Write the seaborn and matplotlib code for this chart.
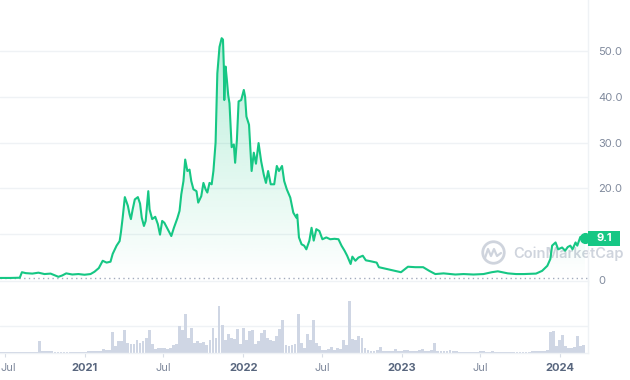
"""Price + volume chart in the CoinMarketCap style (seaborn / matplotlib)."""
import matplotlib

matplotlib.use("Agg")

import matplotlib.dates as mdates  # noqa: E402
import matplotlib.pyplot as plt  # noqa: E402
import matplotlib.transforms as mtransforms  # noqa: E402
import numpy as np  # noqa: E402
import pandas as pd  # noqa: E402
import seaborn as sns  # noqa: E402
from matplotlib.colors import to_rgb  # noqa: E402
from matplotlib.patches import Rectangle  # noqa: E402

GREEN = "#16c784"
GRID = "#eff2f5"
LABEL = "#808a9d"
VOL = "#cfd6e4"

# ---- data -----------------------------------------------------------------
price_dates = [
    "2020-06-20", "2020-07-13", "2020-08-04", "2020-08-09", "2020-08-18", "2020-09-02",
    "2020-09-16", "2020-09-30", "2020-10-14", "2020-11-01", "2020-11-10", "2020-11-19",
    "2020-12-03", "2020-12-17", "2020-12-31",
    "2021-01-14", "2021-01-23", "2021-02-02", "2021-02-11", "2021-02-20", "2021-03-01",
    "2021-03-06", "2021-03-15", "2021-03-22", "2021-03-25", "2021-03-29", "2021-04-03",
    "2021-04-10", "2021-04-14", "2021-04-17", "2021-04-21", "2021-04-26", "2021-05-03",
    "2021-05-08", "2021-05-12", "2021-05-17", "2021-05-21", "2021-05-27", "2021-05-30",
    "2021-06-05", "2021-06-12", "2021-06-18", "2021-06-23", "2021-06-28", "2021-07-03",
    "2021-07-09", "2021-07-19", "2021-07-25", "2021-08-02", "2021-08-07", "2021-08-11",
    "2021-08-16", "2021-08-20", "2021-08-25", "2021-08-30", "2021-09-03", "2021-09-08",
    "2021-09-15", "2021-09-19", "2021-09-26", "2021-10-01", "2021-10-06", "2021-10-10",
    "2021-10-15", "2021-10-20", "2021-10-24", "2021-10-29", "2021-11-02", "2021-11-07",
    "2021-11-12", "2021-11-15", "2021-11-17", "2021-11-18", "2021-11-21", "2021-11-24",
    "2021-11-27", "2021-11-30", "2021-12-05", "2021-12-10", "2021-12-13", "2021-12-17",
    "2021-12-21", "2021-12-27",
    "2022-01-02", "2022-01-05", "2022-01-08", "2022-01-14", "2022-01-20", "2022-01-25",
    "2022-01-30", "2022-02-05", "2022-02-11", "2022-02-17", "2022-02-22", "2022-02-27",
    "2022-03-05", "2022-03-13", "2022-03-19", "2022-03-24", "2022-03-31", "2022-04-05",
    "2022-04-11", "2022-04-19", "2022-04-26", "2022-05-03", "2022-05-05", "2022-05-09",
    "2022-05-15", "2022-05-21", "2022-05-26", "2022-06-02", "2022-06-07", "2022-06-12",
    "2022-06-18", "2022-06-25", "2022-07-02", "2022-07-11", "2022-07-20", "2022-07-30",
    "2022-08-08", "2022-08-15", "2022-08-22", "2022-08-28", "2022-09-05", "2022-09-09",
    "2022-09-16", "2022-09-23", "2022-10-03", "2022-10-10", "2022-10-21", "2022-11-04",
    "2022-11-09", "2022-11-27", "2022-12-16", "2022-12-30",
    "2023-01-15", "2023-02-01", "2023-02-19", "2023-03-05", "2023-03-19", "2023-04-07",
    "2023-05-04", "2023-05-23", "2023-06-15", "2023-07-08", "2023-07-27", "2023-08-10",
    "2023-09-02", "2023-09-21", "2023-10-09", "2023-11-06", "2023-11-20", "2023-12-02",
    "2023-12-09", "2023-12-13", "2023-12-21", "2023-12-27",
    "2024-01-05", "2024-01-12", "2024-01-18", "2024-01-24", "2024-01-29", "2024-02-05",
    "2024-02-09", "2024-02-16", "2024-02-23", "2024-02-27",
]
price_values = [
    0.45, 0.45, 0.5, 1.7, 1.5, 1.4, 1.6, 1.3, 1.4, 0.7, 1.0, 1.45, 1.2, 1.3, 1.15,
    1.3, 1.8, 2.6, 4.2, 3.8, 4.0, 5.7, 7.5, 8.5, 10.4, 13.6, 18.1, 16.2, 14.3, 13.3,
    15.4, 17.6, 18.1, 16.7, 13.6, 11.8, 12.9, 19.4, 15.4, 13.3, 13.8, 12.2, 9.9, 12.9,
    12.5, 11.4, 9.6, 11.4, 13.5, 15.1, 18.7, 21.6, 26.3, 23.8, 24.1, 21.6, 19.8, 19.4,
    16.9, 18.3, 21.2, 19.8, 19.1, 21.2, 20.9, 23.8, 30.0, 45.1, 50.9, 52.8, 52.5, 46.6,
    39.3, 46.6, 43.7, 40.4, 38.6, 29.0, 29.6, 25.6, 30.5, 39.0, 39.3,
    41.5, 40.0, 35.7, 33.9, 23.8, 27.8, 25.4, 29.9, 25.9, 23.0, 21.2, 23.8, 20.9, 20.9,
    24.9, 23.8, 24.9, 21.6, 19.8, 18.0, 14.7, 13.6, 14.3, 9.3, 7.8, 7.5, 6.7, 8.6, 11.4,
    8.6, 11.1, 10.7, 8.9, 9.3, 8.9, 9.0, 8.9, 7.5, 6.4, 5.3, 3.5, 5.1, 4.2, 4.9, 5.3,
    4.3, 4.1, 3.8, 2.8, 2.4, 2.0, 1.7,
    2.9, 2.8, 2.8, 2.0, 1.3, 1.45, 1.2, 1.3, 1.2, 1.3, 1.7, 1.9, 1.45, 1.3, 1.3, 1.4,
    2.0, 3.1, 4.6, 7.5, 8.2, 6.7,
    7.1, 6.4, 7.2, 7.5, 6.7, 8.2, 7.5, 9.4, 9.4, 9.1,
]

# weekly volume (arbitrary units), first week starting 2020-06-20
volume_start = "2020-06-20"
volume_values = [
    0.02, 0.02, 0.02, 0.02, 0.02, 0.02, 0.02, 0.02, 0.02, 0.02,
    0.05, 0.03, 0.05, 0.46, 0.06, 0.06, 0.06, 0.06, 0.04, 0.03,
    0.03, 0.05, 0.03, 0.03, 0.03, 0.03, 0.05, 0.03, 0.04, 0.06,
    0.07, 0.09, 0.07, 0.09, 0.15, 0.10, 0.12, 0.77, 0.25, 0.43,
    0.46, 0.86, 0.37, 0.32, 0.35, 0.49, 0.37, 0.46, 0.56, 0.86,
    0.33, 0.15, 0.20, 0.19, 0.19, 0.14, 0.19, 0.31, 0.33, 0.99,
    0.86, 1.46, 0.56, 0.93, 0.37, 0.43, 0.37, 0.40, 0.30, 0.49,
    0.93, 0.55, 1.75, 1.05, 0.50, 0.72, 0.56, 0.52, 0.90, 0.35,
    0.93, 0.50, 0.80, 0.86, 0.35, 0.43, 0.74, 0.86, 0.55, 0.50,
    0.43, 0.62, 0.90, 1.23, 0.31, 0.25, 0.28, 0.33, 1.46, 0.37,
    0.20, 0.72, 0.50, 1.23, 0.37, 0.25, 0.12, 0.12, 0.16, 0.22,
    0.12, 0.18, 0.16, 0.49, 0.31, 1.94, 0.52, 0.49, 0.62, 0.56,
    0.19, 0.10, 0.09, 0.09, 0.10, 0.22, 0.06, 0.06, 0.06, 0.06,
    0.15, 0.06, 0.09, 0.12, 0.10, 0.06, 0.09, 0.09, 0.10, 0.15,
    0.09, 0.06, 0.12, 0.37, 0.06, 0.06, 0.06, 0.08, 0.11, 0.07,
    0.07, 0.05, 0.04, 0.04, 0.04, 0.04, 0.04, 0.05, 0.06, 0.07,
    0.05, 0.05, 0.07, 0.05, 0.05, 0.05, 0.04, 0.05, 0.04, 0.05,
    0.05, 0.04, 0.05, 0.05, 0.05, 0.07, 0.07, 0.07, 0.06, 0.07,
    0.10, 0.78, 0.83, 0.25, 0.49, 0.68, 0.25, 0.19, 0.19, 0.21,
    0.64, 0.25, 0.28,
]

tick_dates = ["2020-07-01", "2021-01-01", "2021-07-01", "2022-01-01",
              "2022-07-01", "2023-01-01", "2023-07-01", "2024-01-01"]
tick_labels = ["Jul", "2021", "Jul", "2022", "Jul", "2023", "Jul", "2024"]
price_ticks = [0, 10, 20, 30, 40, 50]
price_tick_labels = ["0", "", "20.0", "30.0", "40.0", "50.0"]

price_df = pd.DataFrame({"date": pd.to_datetime(price_dates), "price": price_values})
volume_df = pd.DataFrame({
    "date": pd.date_range(volume_start, periods=len(volume_values), freq="7D"),
    "volume": volume_values,
})

# ---- style -----------------------------------------------------------------
sns.set_theme(style="white")
plt.rcParams["font.family"] = ["Inter", "DejaVu Sans"]

W, H = 630, 380
fig = plt.figure(figsize=(W / 100, H / 100), dpi=100)
fig.patch.set_facecolor("white")

plot_w = 588 / W
ax = fig.add_axes([0, (H - 285) / H, plot_w, 285 / H])
ax2 = fig.add_axes([0, (H - 353) / H, plot_w, 72 / H])
ax.patch.set_alpha(0)

x_left = pd.Timestamp("2020-06-19 12:00")
x_right = pd.Timestamp("2024-03-04 16:00")

# ---- price panel -------------------------------------------------------------
for y in price_ticks[1:]:
    ax.axhline(y, color=GRID, lw=1, zorder=0)
ax.axhline(price_values[0], color="#a3abbd", lw=1, ls=(0, (1, 2.4)), zorder=2)

fill = ax.fill_between(price_df["date"], price_df["price"], 0,
                       facecolor="none", edgecolor="none")
xnum = mdates.date2num(price_df["date"])
grad = np.zeros((256, 1, 4))
grad[..., :3] = to_rgb(GREEN)
grad[..., 3] = np.linspace(0.0, 0.3, 256)[:, None]
im = ax.imshow(grad, aspect="auto", origin="lower", interpolation="bilinear",
               extent=[xnum[0], xnum[-1], 0, max(price_values)], zorder=1)
im.set_clip_path(fill.get_paths()[0], transform=ax.transData)

sns.lineplot(data=price_df, x="date", y="price", color=GREEN, linewidth=1.5,
             ax=ax, zorder=3)
ax.plot(price_df["date"].iloc[-1], price_values[-1], "o", ms=7, color=GREEN, zorder=4)

ax.set_xlim(x_left, x_right)
ax.set_ylim(-1.09, 61.14)
ax.set_xticks([])
ax.set_xlabel("")
ax.set_ylabel("")
ax.yaxis.tick_right()
ax.set_yticks(price_ticks)
ax.set_yticklabels(price_tick_labels)
ax.tick_params(axis="y", length=0, pad=7.5, labelsize=8, labelcolor=LABEL)
for side in ["left", "top", "bottom"]:
    ax.spines[side].set_visible(False)
ax.spines["right"].set_color(GRID)
ax.spines["right"].set_linewidth(1)

# current price tag
blend = mtransforms.blended_transform_factory(ax.transAxes, ax.transData)
tag_h = 15 / 4.58
ax.add_patch(Rectangle((1.0, price_values[-1] - tag_h / 2), 32 / 588, tag_h,
                       transform=blend, facecolor=GREEN, edgecolor="none",
                       clip_on=False, zorder=5))
ax.text(1.0 + 16 / 588, price_values[-1], f"{price_values[-1]:.1f}", transform=blend,
        ha="center", va="center", color="white", fontsize=8, fontweight="bold",
        clip_on=False, zorder=6)

# watermark
wm = "#cfd4dd"
ax.text(513 / W, 1 - 254 / H, "CoinMarketCap", transform=fig.transFigure,
        fontsize=10.5, fontweight="semibold", color=wm, ha="left", va="center",
        zorder=0.5, clip_on=False)
ax.plot([493 / W], [1 - 252 / H], marker="o", ms=15.5, mfc="none", mec=wm, mew=2,
        transform=fig.transFigure, clip_on=False, zorder=0.5)
ax.plot(np.array([485, 488, 491, 494, 497, 501]) / W,
        1 - np.array([258, 249, 256, 249, 256, 253]) / H,
        color=wm, lw=1.6, transform=fig.transFigure, clip_on=False, zorder=0.5)

# ---- volume panel ------------------------------------------------------------
ax2.bar(volume_df["date"], volume_df["volume"], width=6.5, color=VOL, linewidth=0,
        zorder=2)
ax2.set_xlim(x_left, x_right)
ax2.set_ylim(0, 2.67)
ax2.set_yticks([1])
ax2.set_yticklabels([])
ax2.grid(axis="y", color=GRID, lw=1)
ax2.set_axisbelow(True)
ax2.spines["left"].set_visible(False)
for side in ["top", "right", "bottom"]:
    ax2.spines[side].set_color(GRID)
    ax2.spines[side].set_linewidth(1)
ax2.set_xticks(pd.to_datetime(tick_dates))
ax2.set_xticklabels(tick_labels)
ax2.tick_params(axis="x", bottom=True, length=3, width=0.8, color="#d8dde6",
                pad=4, labelsize=8)
ax2.tick_params(axis="y", length=0)
for i, lab in enumerate(ax2.get_xticklabels()):
    if lab.get_text().isdigit():
        lab.set_fontweight("bold")
        lab.set_color("#58667e")
    else:
        lab.set_color(LABEL)
    if i == 0:
        # keep the first label inside the canvas
        lab.set_ha("left")
        lab.set_transform(lab.get_transform()
                          + mtransforms.ScaledTranslation(-4 / 100, 0, fig.dpi_scale_trans))

fig.savefig("out.png", dpi=100)
plt.close(fig)
